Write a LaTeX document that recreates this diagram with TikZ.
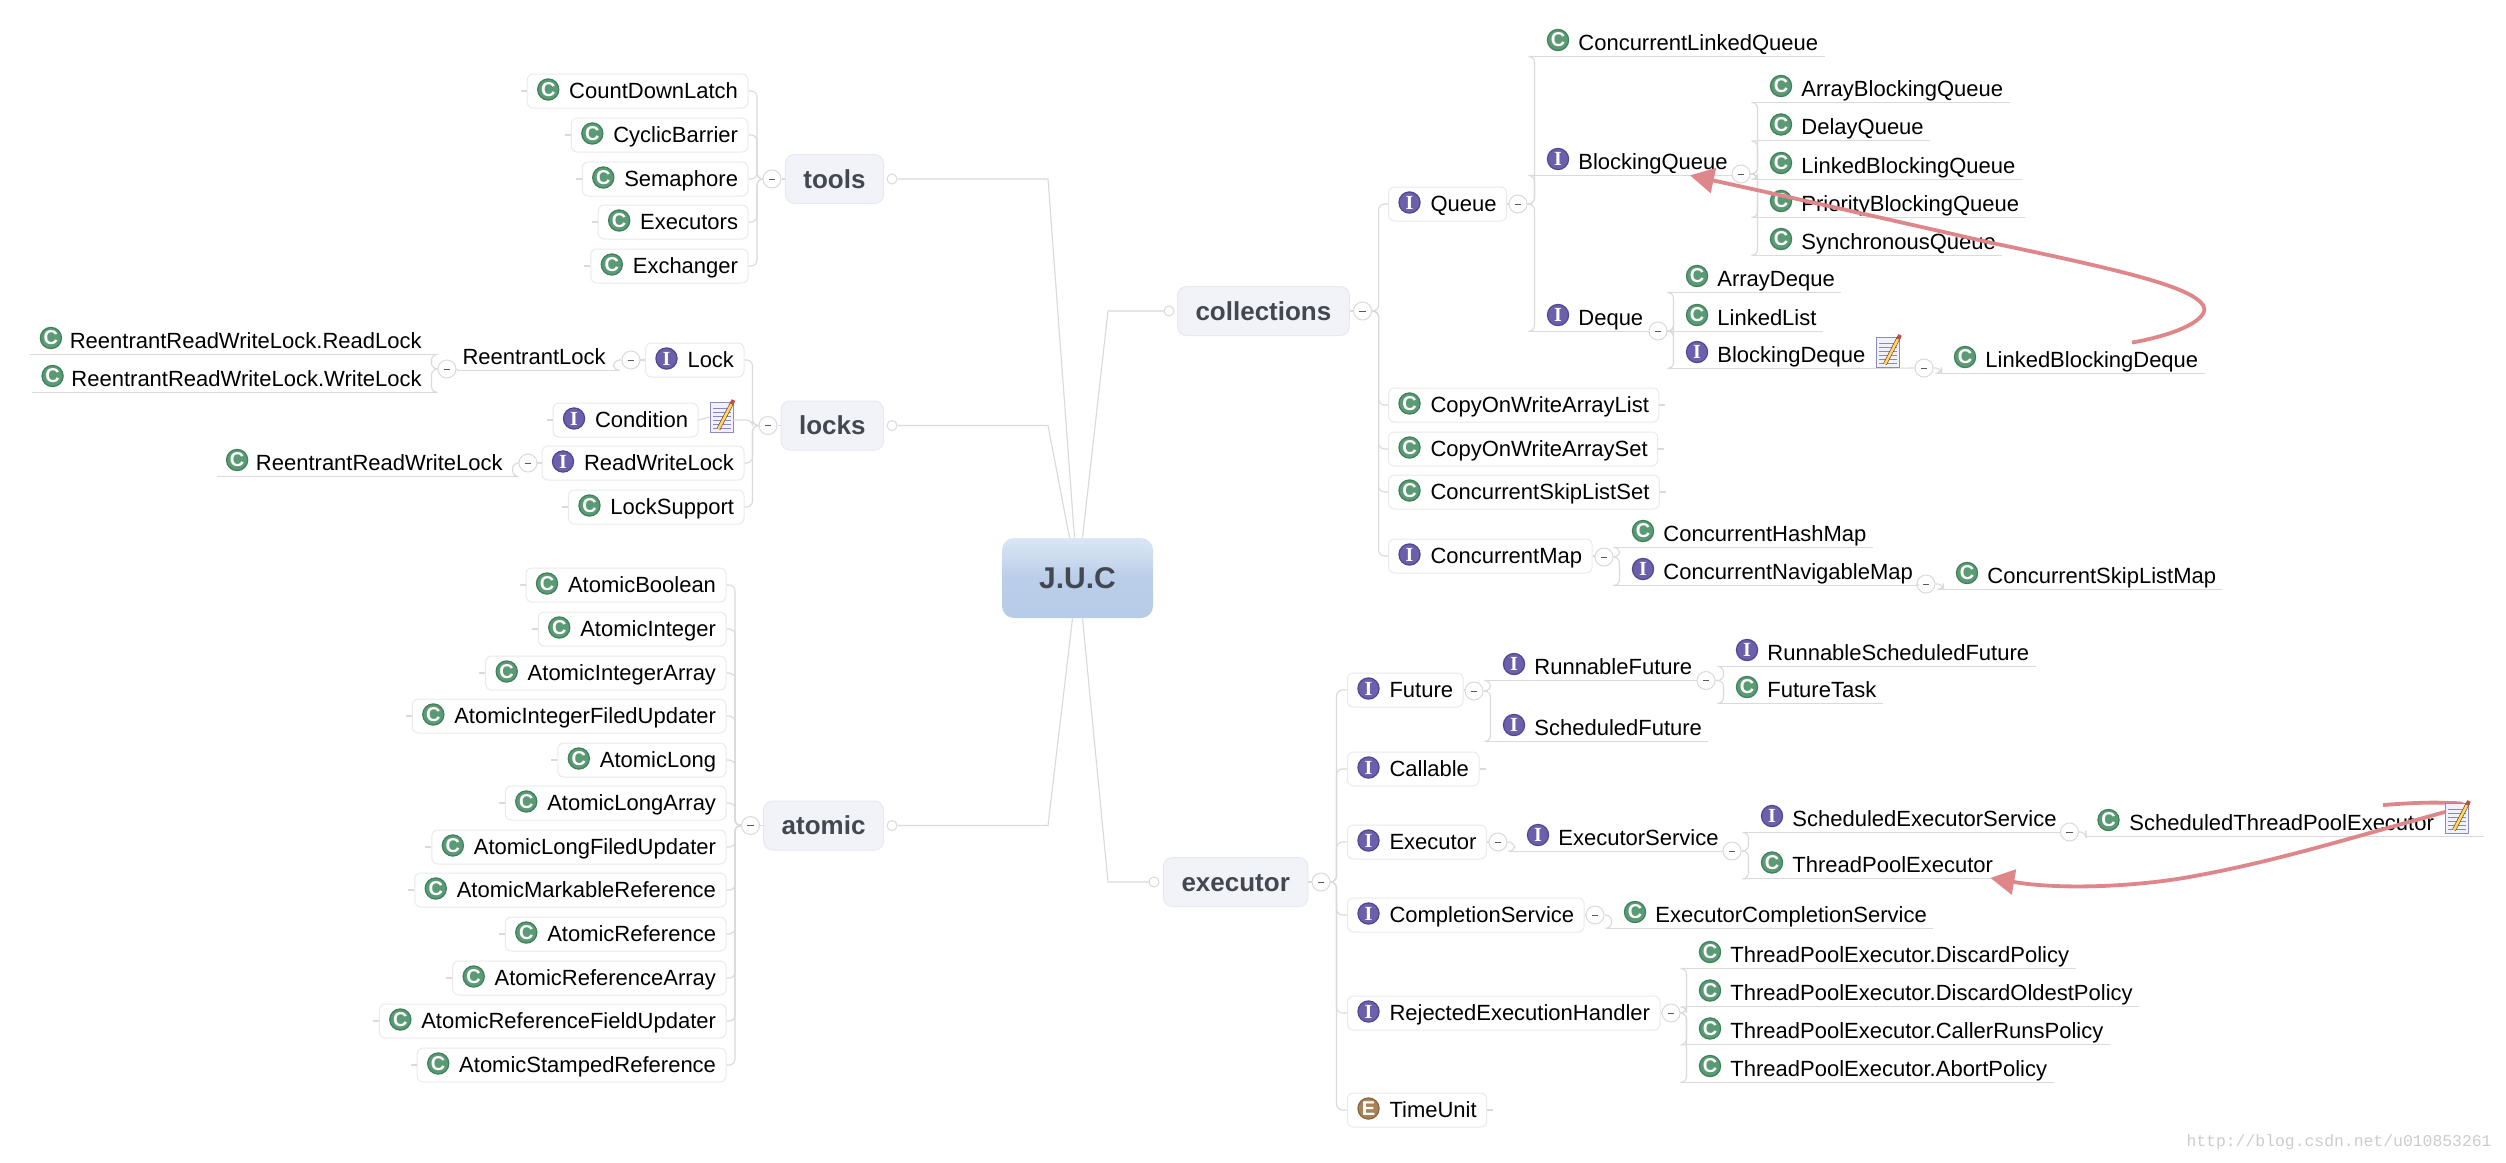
\documentclass[tikz,border=0pt]{standalone}
\usepackage{fontspec}
\setmainfont{Liberation Sans}
\newfontfamily\serifface{Liberation Serif}
\newfontfamily\monoface{Liberation Mono}
\usetikzlibrary{arrows.meta,shadings}
\definecolor{connc}{HTML}{DADADA}
\definecolor{edgec}{HTML}{EAEAEA}
\definecolor{mainf}{HTML}{F2F3F8}
\definecolor{maine}{HTML}{E8E9F0}
\definecolor{maint}{HTML}{43474F}
\definecolor{redc}{HTML}{DF868B}
\definecolor{greenf}{HTML}{5A9A74}
\definecolor{greene}{HTML}{3F7F5A}
\definecolor{purf}{HTML}{6C60AC}
\definecolor{pure}{HTML}{51468F}
\definecolor{brownf}{HTML}{A8835A}
\definecolor{browne}{HTML}{86663F}
\definecolor{jtop}{HTML}{DCE6F4}
\definecolor{jbot}{HTML}{B7CCE8}
\tikzset{
  conn/.style={draw=connc,line width=.55pt},
  txt/.style={font=\fontsize{11}{13}\selectfont,inner sep=0pt,text=black},
  classbox/.style={txt,draw=edgec,fill=white,line width=.5pt,rounded corners=3pt,
    inner xsep=5pt,inner ysep=0pt,minimum height=17pt,text height=12pt,text depth=5pt},
  leaf/.style={txt,text height=12.5pt,text depth=3pt},
  icobase/.style={circle,inner sep=0pt,minimum size=10.6pt,line width=.6pt,text=white,
    font=\fontsize{10}{10}\selectfont\bfseries},
  icoC/.style={icobase,fill=greenf,draw=greene},
  icoI/.style={icobase,fill=purf,draw=pure},
  icoE/.style={icobase,fill=brownf,draw=browne},
  minus/.style={circle,draw=connc,fill=white,line width=.5pt,inner sep=0pt,minimum size=9pt,
    path picture={\draw[black!65,line width=.5pt] (-1.6pt,0)--(1.6pt,0);}},
  opendot/.style={circle,draw=connc,fill=white,line width=.5pt,inner sep=0pt,minimum size=5pt},
  mainbox/.style={draw=maine,fill=mainf,line width=.5pt,rounded corners=4.5pt,text=maint,
    font=\fontsize{13}{15}\selectfont\bfseries,inner xsep=9pt,inner ysep=0pt,
    minimum height=24.5pt,text height=16.75pt,text depth=7.75pt},
  rootbox/.style={rounded corners=6pt,top color=jtop,bottom color=jbot,middle color=jbot!92!jtop,
    text=maint,font=\fontsize{15}{17}\selectfont\bfseries,minimum width=75.5pt,minimum height=40pt},
  redline/.style={draw=redc,line width=1.9pt,-{Triangle[length=12pt,width=12.5pt,fill=redc]}},
  notepage/.style={rectangle,draw=black!0!blue!30!gray!70,fill=blue!6,line width=.4pt,
    inner sep=0pt,minimum width=11.5pt,minimum height=15pt},
  wmark/.style={font=\fontsize{8.2}{10}\selectfont\monoface,text=black!20,inner sep=0pt}
}
\newcommand\ltC{C}
\newcommand\ltI{{\serifface I}}
\newcommand\ltE{E}
% left-hand boxed item: name, right edge, y, icon, text
\newcommand\lbox[5]{%
  \node[classbox,anchor=east] (#1) at (#2+1.5,#3) {\hspace*{16pt}#5};
  \draw[conn] (#1.west) -- ++(-6,0);
  \node[ico#4] (#1i) at ([shift={(21.5,-1.5)}]#1.west) {\csname lt#4\endcsname};}
% right-hand boxed item: name, left edge, y, icon, text
\newcommand\rbox[5]{%
  \node[classbox,anchor=west] (#1) at (#2,#3) {\hspace*{16pt}#5};
  \draw[conn] (#1.east) -- ++(6,0);
  \node[ico#4] (#1i) at ([shift={(21.5,-1.5)}]#1.west) {\csname lt#4\endcsname};}
% right-hand underlined item: name, bracket x, text y, icon, text
\newcommand\rleaf[5]{%
  \node[leaf,anchor=base west] (#1) at (#2,#3+7) {\hspace*{22pt}#5\hspace*{3pt}};
  \draw[conn] (#1.south west) -- (#1.south east);
  \node[ico#4] (#1i) at ([shift={(24,-10)}]#1.base west) {\csname lt#4\endcsname};}
% left-hand underlined item: name, right x, text y, icon, text
\newcommand\lleaf[5]{%
  \node[leaf,anchor=base east] (#1) at (#2,#3+7) {\hspace*{19.5pt}#5\hspace*{5pt}};
  \draw[conn] (#1.south west) -- (#1.south east);
  \node[ico#4] (#1i) at ([shift={(20.5,-10)}]#1.base west) {\csname lt#4\endcsname};}
% brackets
\newcommand\brLbox[3]{\foreach \kid in {#3}{\draw[conn,rounded corners=3pt] (#1.west) -- ++(-#2,0) |- (\kid.east);}}
\newcommand\brLleaf[3]{\foreach \kid in {#3}{\draw[conn,rounded corners=3pt] (#1.west) -- ++(-#2,0) |- (\kid.south east);}}
\newcommand\brRbox[3]{\foreach \kid in {#3}{\draw[conn,rounded corners=3pt] (#1.east) -- ++(#2,0) |- (\kid.west);}}
\newcommand\brRleaf[3]{\foreach \kid in {#3}{\draw[conn,rounded corners=3pt] (#1.east) -- ++(#2,0) |- (\kid.south west);}}
% note icon: name, x, y
\newcommand\notebox[3]{%
  \node[notepage] (#1) at (#2,#3) {};
  \foreach \ln in {-9,-5,-1,3,7,11}{\draw[blue!35!gray!70,line width=.35pt] ([shift={(-9,\ln)}]#1.center) -- ++(18,0);}
  \draw[black!55!orange,line width=1.9pt] ([shift={(-3,12)}]#1.center) -- ([shift={(11,-15)}]#1.center);
  \draw[yellow!45!orange!55,line width=1.3pt] ([shift={(-3,12)}]#1.center) -- ([shift={(10,-13)}]#1.center);
  \draw[red!65!black!70,line width=1.9pt] ([shift={(10,-13)}]#1.center) -- ([shift={(12,-17)}]#1.center);}
\begin{document}
\begin{tikzpicture}[x=.5pt,y=-.5pt]
\useasboundingbox (0,0) rectangle (2506,1162);
\fill[white] (0,0) rectangle (2506,1162);

% ---------- root and main branches
\node[rootbox] (juc) at (1077.5,578) {J.U.C};
\node[mainbox,anchor=east] (tools) at (884,179) {tools};
\node[mainbox,anchor=east] (locks) at (884,425.5) {locks};
\node[mainbox,anchor=east] (atomic) at (884,825.5) {atomic};
\node[mainbox,anchor=west] (collections) at (1177,311) {collections};
\node[mainbox,anchor=west] (executor) at (1163,882) {executor};
\node[opendot] (dtools) at (892,179) {};
\node[opendot] (dlocks) at (892,425.5) {};
\node[opendot] (datomic) at (892,825.5) {};
\node[opendot] (dcoll) at (1169,311) {};
\node[opendot] (dexec) at (1154,882) {};
\coordinate (ktools) at (1048,179);
\coordinate (klocks) at (1048,425.5);
\coordinate (katomic) at (1048,825.5);
\coordinate (kcoll) at (1108,311);
\coordinate (kexec) at (1108,882);
\draw[conn] (dtools.east) -- (ktools) -- ([shift={(-3,0)}]juc.north);
\draw[conn] (dlocks.east) -- (klocks) -- ([shift={(-8,0)}]juc.north);
\draw[conn] (datomic.east) -- (katomic) -- ([shift={(-5,0)}]juc.south);
\draw[conn] (dcoll.west) -- (kcoll) -- ([shift={(5,0)}]juc.north);
\draw[conn] (dexec.west) -- (kexec) -- ([shift={(5,0)}]juc.south);

% ---------- tools
\lbox{cdl}{747}{91}{C}{CountDownLatch}
\lbox{cyb}{747}{135}{C}{CyclicBarrier}
\lbox{sem}{747}{179}{C}{Semaphore}
\lbox{exs}{747}{222}{C}{Executors}
\lbox{exg}{747}{266}{C}{Exchanger}
\node[minus] (mtools) at (772,179) {};
\brLbox{mtools}{5.5}{cdl,cyb,sem,exs,exg}
\draw[conn] (mtools.east) -- (tools.west);

% ---------- locks
\lbox{lock}{743}{360}{I}{Lock}
\lbox{cond}{697}{420}{I}{Condition}
\lbox{rwl}{743}{463}{I}{ReadWriteLock}
\lbox{lsup}{743}{507}{C}{LockSupport}
\node[minus] (mlocks) at (768,425.5) {};
\notebox{ncond}{721.5}{417}
\coordinate (condout) at (cond.east -| ncond.east);
\draw[conn] (cond.east) -- (ncond.west);
\brLbox{mlocks}{6}{lock,condout,rwl,lsup}
\draw[conn] (mlocks.east) -- (locks.west);
\node[leaf,anchor=base east] (rlock) at (615,364) {\hspace*{2pt}ReentrantLock\hspace*{4.5pt}};
\draw[conn] (rlock.south west) -- (rlock.south east);
\node[minus] (mlock) at (631,360) {};
\brLleaf{mlock}{8}{rlock}
\draw[conn] (mlock.east) -- (lock.west);
\lleaf{rrl}{432}{341}{C}{ReentrantReadWriteLock.ReadLock}
\lleaf{rwr}{432}{379}{C}{ReentrantReadWriteLock.WriteLock}
\node[minus] (mrlock) at (447,369) {};
\brLleaf{mrlock}{6}{rrl,rwr}
\draw[conn] (mrlock.east) -- (rlock.south west);
\lleaf{rrw}{513}{463}{C}{ReentrantReadWriteLock}
\node[minus] (mrwl) at (528,463) {};
\brLleaf{mrwl}{6}{rrw}
\draw[conn] (mrwl.east) -- (rwl.west);

% ---------- atomic
\lbox{a1}{725}{585}{C}{AtomicBoolean}
\lbox{a2}{725}{629}{C}{AtomicInteger}
\lbox{a3}{725}{673}{C}{AtomicIntegerArray}
\lbox{a4}{725}{716}{C}{AtomicIntegerFiledUpdater}
\lbox{a5}{725}{760}{C}{AtomicLong}
\lbox{a6}{725}{803}{C}{AtomicLongArray}
\lbox{a7}{725}{847}{C}{AtomicLongFiledUpdater}
\lbox{a8}{725}{890}{C}{AtomicMarkableReference}
\lbox{a9}{725}{934}{C}{AtomicReference}
\lbox{a10}{725}{978}{C}{AtomicReferenceArray}
\lbox{a11}{725}{1021}{C}{AtomicReferenceFieldUpdater}
\lbox{a12}{725}{1065}{C}{AtomicStampedReference}
\node[minus] (matomic) at (750.5,825.5) {};
\brLbox{matomic}{6}{a1,a2,a3,a4,a5,a6,a7,a8,a9,a10,a11,a12}
\draw[conn] (matomic.east) -- (atomic.west);

% ---------- collections
\rbox{queue}{1388}{204}{I}{Queue}
\rbox{cowl}{1388}{405}{C}{CopyOnWriteArrayList}
\rbox{cows}{1388}{449}{C}{CopyOnWriteArraySet}
\rbox{csls}{1388}{492}{C}{ConcurrentSkipListSet}
\rbox{cmap}{1388}{556}{I}{ConcurrentMap}
\node[minus] (mcoll) at (1362.6,311) {};
\brRbox{mcoll}{6.5}{queue,cowl,cows,csls,cmap}
\draw[conn] (collections.east) -- (mcoll.west);

\rleaf{clq}{1534}{43}{C}{ConcurrentLinkedQueue}
\rleaf{bq}{1534}{162}{I}{BlockingQueue}
\rleaf{deque}{1534}{318}{I}{Deque}
\node[minus] (mqueue) at (1518,204) {};
\brRleaf{mqueue}{7}{clq,bq,deque}

\rleaf{abq}{1757}{89}{C}{ArrayBlockingQueue}
\rleaf{dq}{1757}{127.5}{C}{DelayQueue}
\rleaf{lbq}{1757}{166}{C}{LinkedBlockingQueue}
\rleaf{pbq}{1757}{204}{C}{PriorityBlockingQueue}
\rleaf{sq}{1757}{242}{C}{SynchronousQueue}
\node[minus] (mbq) at (1741,174) {};
\brRleaf{mbq}{7}{abq,dq,lbq,pbq,sq}

\rleaf{adq}{1673}{279}{C}{ArrayDeque}
\rleaf{llist}{1673}{318}{C}{LinkedList}
\rleaf{bdq}{1673}{355}{I}{BlockingDeque}
\node[minus] (mdeque) at (1658,331) {};
\brRleaf{mdeque}{6}{adq,llist,bdq}
\rleaf{lbd}{1941}{360}{C}{LinkedBlockingDeque}
\node[minus] (mbdq) at (1924,368) {};
\draw[conn] (bdq.south east) -- (mbdq.west);
\brRleaf{mbdq}{8}{lbd}
\notebox{nbdq}{1888}{352}

\rleaf{chm}{1619}{534}{C}{ConcurrentHashMap}
\rleaf{cnm}{1619}{572}{I}{ConcurrentNavigableMap}
\node[minus] (mcmap) at (1604,557) {};
\brRleaf{mcmap}{6}{chm,cnm}
\rleaf{cslm}{1943}{576}{C}{ConcurrentSkipListMap}
\node[minus] (mcnm) at (1926,584) {};
\draw[conn] (cnm.south east) -- (mcnm.west);
\brRleaf{mcnm}{8}{cslm}

% ---------- executor
\rbox{future}{1347}{690}{I}{Future}
\rbox{callable}{1347}{769}{I}{Callable}
\rbox{execr}{1347}{842}{I}{Executor}
\rbox{compl}{1347}{915}{I}{CompletionService}
\rbox{rejh}{1347}{1013}{I}{RejectedExecutionHandler}
\rbox{tunit}{1347}{1110}{E}{TimeUnit}
\node[minus] (mexec) at (1321,882) {};
\brRbox{mexec}{6}{future,callable,execr,compl,rejh,tunit}
\draw[conn] (executor.east) -- (mexec.west);

\rleaf{rfut}{1490}{667}{I}{RunnableFuture}
\rleaf{sfut}{1490}{728}{I}{ScheduledFuture}
\node[minus] (mfut) at (1474,691) {};
\brRleaf{mfut}{7}{rfut,sfut}
\rleaf{rsf}{1723}{653}{I}{RunnableScheduledFuture}
\rleaf{ftask}{1723}{690}{C}{FutureTask}
\node[minus] (mrfut) at (1706,680.5) {};
\brRleaf{mrfut}{8}{rsf,ftask}

\rleaf{esvc}{1514}{838}{I}{ExecutorService}
\node[minus] (mexecr) at (1498,842) {};
\brRleaf{mexecr}{7}{esvc}
\rleaf{sesvc}{1748}{819}{I}{ScheduledExecutorService}
\rleaf{tpe}{1748}{865.5}{C}{ThreadPoolExecutor}
\node[minus] (mesvc) at (1732,851) {};
\brRleaf{mesvc}{7}{sesvc,tpe}
\node[leaf,anchor=base west] (stpe) at (2086,830) {\hspace*{21.5pt}ScheduledThreadPoolExecutor\hspace*{25pt}};
\draw[conn] (stpe.south west) -- (stpe.south east);
\node[icoC] (stpei) at ([shift={(22.5,-10)}]stpe.base west) {\ltC};
\node[minus] (msesvc) at (2069.5,832) {};
\brRleaf{msesvc}{7}{stpe}

\rleaf{ecs}{1611}{915}{C}{ExecutorCompletionService}
\node[minus] (mcompl) at (1595,915) {};
\brRleaf{mcompl}{7}{ecs}

\rleaf{tp1}{1686}{955}{C}{ThreadPoolExecutor.DiscardPolicy}
\rleaf{tp2}{1686}{993.5}{C}{ThreadPoolExecutor.DiscardOldestPolicy}
\rleaf{tp3}{1686}{1031.5}{C}{ThreadPoolExecutor.CallerRunsPolicy}
\rleaf{tp4}{1686}{1069}{C}{ThreadPoolExecutor.AbortPolicy}
\node[minus] (mrejh) at (1671,1013) {};
\brRleaf{mrejh}{6}{tp1,tp2,tp3,tp4}

% ---------- red arrows
\draw[redline] ([shift={(191,1)}]lbd.north west)
  .. controls (2190,332) and (2210,315) .. (2203,305)
  .. controls (2190,287) and (2130,272) .. (1992,243)
  .. controls (1900,222) and (1780,195) .. ([shift={(156,0)}]bq.south west);
\draw[redline] ([shift={(297,-25)}]stpe.base west)
  .. controls (2410,803) and (2430,802) .. (2450,803)
  .. controls (2470,803) and (2465,806) .. (2445,812)
  .. controls (2350,838) and (2280,860) .. (2200,875)
  .. controls (2140,887) and (2060,890) .. ([shift={(-9,-1)}]tpe.south east);
\notebox{nstpe}{2457}{818}

\node[wmark,anchor=east] (wm) at (2492,1142) {http://blog.csdn.net/u010853261};
\end{tikzpicture}
\end{document}
